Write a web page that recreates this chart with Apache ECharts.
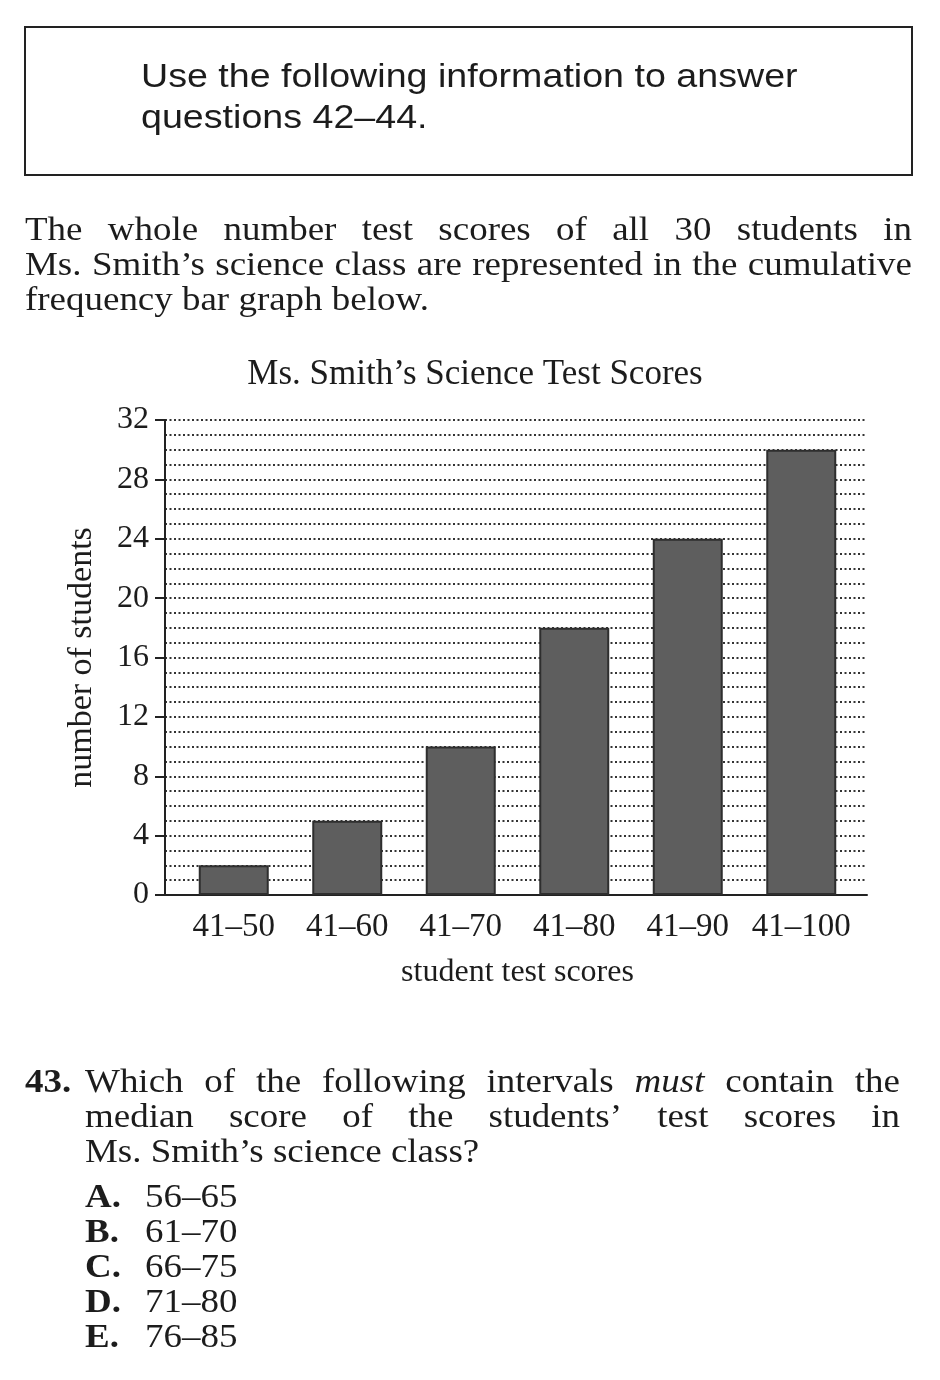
<!DOCTYPE html>
<html><head><meta charset="utf-8">
<script src="https://cdn.jsdelivr.net/npm/echarts@6/dist/echarts.min.js"></script>
<style>html,body{margin:0;padding:0;background:#fff}#c{width:940px;height:1380px}</style>
</head><body><div id="c"></div>
<script>
// ---- data ----
const categories = ['41–50', '41–60', '41–70', '41–80', '41–90', '41–100'];
const cumulativeCounts = [2, 5, 10, 18, 24, 30];
const yTickValues = [0, 4, 8, 12, 16, 20, 24, 28, 32];
const chartTitle = 'Ms. Smith’s Science Test Scores';
const xAxisName = 'student test scores';
const yAxisName = 'number of students';
const introLines = ['Use the following information to answer', 'questions 42–44.'];
const bodyLines = [
  'The whole number test scores of all 30 students in',
  'Ms. Smith’s science class are represented in the cumulative',
  'frequency bar graph below.'
];
const questionNumber = '43.';
const questionLines = [
  'Which of the following intervals *must* contain the',
  'median score of the students’ test scores in',
  'Ms. Smith’s science class?'
];
const choiceLetters = ['A.', 'B.', 'C.', 'D.', 'E.'];
const choiceRanges = ['56–65', '61–70', '66–75', '71–80', '76–85'];

// ---- text helpers ----
const INK = '#1c1c1c';
const SERIF = '"Liberation Serif", "Times New Roman", serif';
const SANS = '"Liberation Sans", Arial, sans-serif';
const mctx = document.createElement('canvas').getContext('2d');
function measure(t, font) { mctx.font = font; return mctx.measureText(t).width; }
function textEl(t, x, y, font, sx) {
  return { type: 'text', x: x, y: y, scaleX: sx || 1, z: 10,
    style: { text: t, x: 0, y: 0, font: font, fill: INK, textAlign: 'left', textVerticalAlign: 'middle', verticalAlign: 'middle' } };
}
function placeLine(line, y, x0, x1, justify, size, family, sx, out) {
  const words = line.split(' ').map(w => {
    const it = /^\*.*\*$/.test(w);
    const t = it ? w.slice(1, -1) : w;
    return { t: t, font: (it ? 'italic ' : '') + size + 'px ' + family };
  });
  const widths = words.map(w => measure(w.t, w.font) * sx);
  const total = widths.reduce((a, b) => a + b, 0);
  const gap = (justify && words.length > 1) ? (x1 - x0 - total) / (words.length - 1)
    : measure(' ', words[0].font) * sx;
  let x = x0;
  words.forEach((w, i) => { out.push(textEl(w.t, x, y, w.font, sx)); x += widths[i] + gap; });
}

const graphics = [];
graphics.push({ type: 'rect', shape: { x: 25, y: 27, width: 887, height: 148 },
  style: { fill: 'none', stroke: '#222', lineWidth: 2 } });
introLines.forEach((l, i) => placeLine(l, 78 + i * 41, 141, 0, false, 33, SANS, 1.14, graphics));
bodyLines.forEach((l, i) => placeLine(l, 231 + i * 35, 25, 912, i < bodyLines.length - 1, 33, SERIF, 1.12, graphics));
graphics.push(textEl(questionNumber, 25, 1083, 'bold 33px ' + SERIF, 1.12));
questionLines.forEach((l, i) => placeLine(l, 1083 + i * 35, 85, 900, i < questionLines.length - 1, 33, SERIF, 1.12, graphics));
choiceLetters.forEach((c, i) => {
  graphics.push(textEl(c, 85, 1198 + i * 35, 'bold 33px ' + SERIF, 1.12));
  graphics.push(textEl(choiceRanges[i], 145, 1198 + i * 35, '33px ' + SERIF, 1.12));
});

// ---- chart ----
const chart = echarts.init(document.getElementById('c'), null, { renderer: 'canvas' });
const GRID_TOP = 420, GRID_H = 475;
chart.setOption({
  backgroundColor: '#fff',
  animation: false,
  title: { text: chartTitle, left: 470, top: 352, textAlign: 'center',
    textStyle: { fontFamily: SERIF, fontSize: 35, fontWeight: 'normal', color: INK } },
  graphic: graphics,
  grid: [
    { left: 165, top: GRID_TOP, width: 702, height: GRID_H },
    { left: 177, top: GRID_TOP, width: 681, height: GRID_H }
  ],
  xAxis: [
    { gridIndex: 0, type: 'value', min: 0, max: 1, axisLabel: { show: false }, axisTick: { show: false },
      splitLine: { show: false }, axisLine: { show: true, lineStyle: { color: '#222', width: 2 } } },
    { gridIndex: 1, type: 'category', data: categories, axisLine: { show: false }, axisTick: { show: false },
      axisLabel: { interval: 0, margin: 16, fontFamily: SERIF, fontSize: 33, color: INK },
      name: xAxisName, nameLocation: 'middle', nameGap: 62,
      nameTextStyle: { fontFamily: SERIF, fontSize: 32, color: INK } }
  ],
  yAxis: [
    { gridIndex: 0, type: 'value', position: 'left', min: 0, max: 32, interval: 1, axisLabel: { show: false },
      axisTick: { show: false }, axisLine: { show: false },
      splitLine: { show: true, lineStyle: { color: '#333', width: 2, type: [2, 2.5] } } },
    { gridIndex: 0, type: 'value', position: 'left', offset: 0, min: 0, max: 32, interval: 4,
      axisLabel: { margin: 16, fontFamily: SERIF, fontSize: 32, color: INK,
        formatter: v => (yTickValues.indexOf(v) >= 0 ? String(v) : '') },
      axisTick: { show: true, length: 10, lineStyle: { color: '#222', width: 2 } },
      axisLine: { show: true, lineStyle: { color: '#222', width: 2 } },
      splitLine: { show: false },
      name: yAxisName, nameLocation: 'middle', nameRotate: 90, nameGap: 66,
      nameTextStyle: { fontFamily: SERIF, fontSize: 34, color: INK } },
    { gridIndex: 1, type: 'value', min: 0, max: 32, show: false, splitLine: { show: false } }
  ],
  series: [{
    type: 'bar', xAxisIndex: 1, yAxisIndex: 2, data: cumulativeCounts, barWidth: 70,
    itemStyle: { color: '#5e5e5e', borderColor: '#2e2e2e', borderWidth: 2 },
    z: 5
  }]
});
</script></body></html>
